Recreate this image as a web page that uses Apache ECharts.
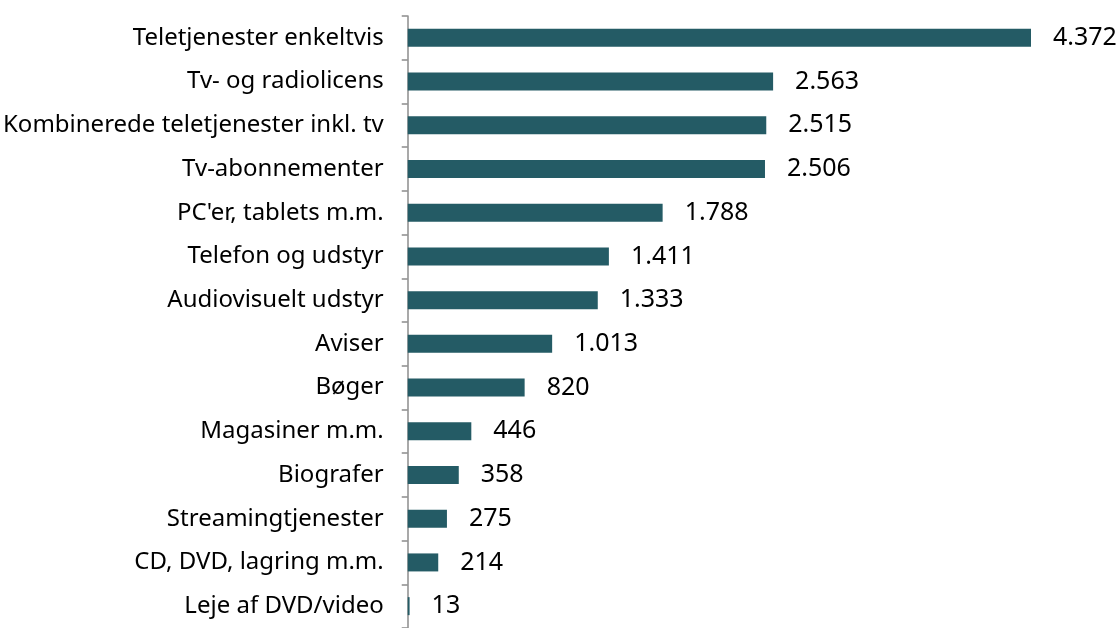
<!DOCTYPE html>
<html>
<head>
<meta charset="utf-8">
<script src="https://cdn.jsdelivr.net/npm/echarts@6/dist/echarts.min.js"></script>
<style>
	html, body { margin: 0; padding: 0; background: #fff; }
	#main { width: 1118px; height: 628px; }
</style>
</head>
<body>
<div id="main"></div>
<script>
	var categories = ['Teletjenester enkeltvis', 'Tv- og radiolicens', 'Kombinerede teletjenester inkl. tv', 'Tv-abonnementer',
		'PC\'er, tablets m.m.', 'Telefon og udstyr', 'Audiovisuelt udstyr', 'Aviser', 'Bøger', 'Magasiner m.m.',
		'Biografer', 'Streamingtjenester', 'CD, DVD, lagring m.m.', 'Leje af DVD/video'];
	var values = [4372, 2563, 2515, 2506, 1788, 1411, 1333, 1013, 820, 446, 358, 275, 214, 13];

	function fmt(v) {
		return String(v).replace(/\B(?=(\d{3})+(?!\d))/g, '.');
	}

	var myChart = echarts.init(document.getElementById('main'));
	var option = {
		animation: false,
		textStyle: { fontFamily: 'Noto Sans' },
		grid: { left: 407, top: 16, width: 624, height: 618, containLabel: false },
		xAxis: {
			type: 'value',
			min: 0,
			max: 4372,
			show: false
		},
		yAxis: {
			type: 'category',
			inverse: true,
			data: categories,
			axisLine: { lineStyle: { color: '#8c8c8c', width: 1.5 } },
			axisTick: { show: true, length: 6, lineStyle: { color: '#8c8c8c', width: 1.5 } },
			axisLabel: { color: '#000', fontSize: 24, margin: 24, fontFamily: 'Noto Sans' }
		},
		series: [
			{
				type: 'bar',
				data: values,
				barWidth: 18,
				itemStyle: { color: '#245b65' },
				label: {
					show: true,
					position: 'right',
					distance: 22,
					color: '#000',
					fontSize: 25,
					fontFamily: 'Noto Sans',
					formatter: function (p) { return fmt(p.value); }
				}
			}
		]
	};
	myChart.setOption(option);
</script>
</body>
</html>
